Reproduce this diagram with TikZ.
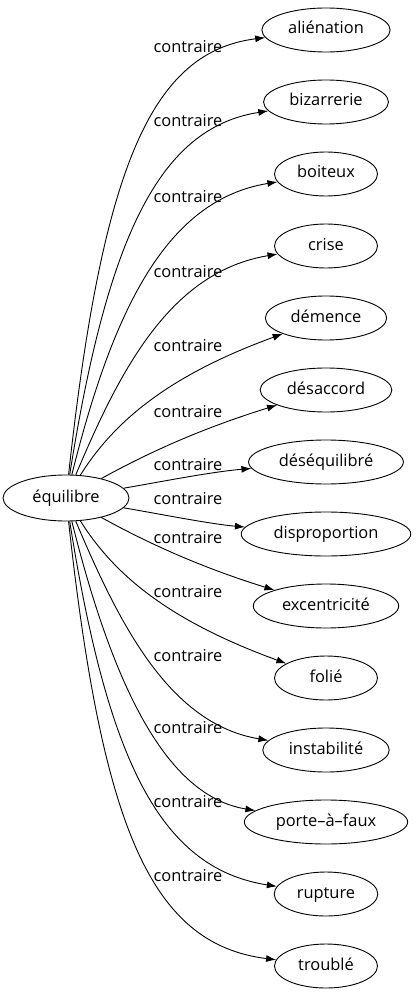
\documentclass[tikz,border=0pt]{standalone}
\usepackage{fontspec}
\setmainfont{Open Sans}
\usetikzlibrary{arrows.meta, shapes.geometric}

\begin{document}
\begin{tikzpicture}[x = 1pt, y = -1pt, > = {Latex[length = 10pt, width = 7pt]},
	word/.style = {draw, ellipse, line width = 0.9pt, minimum width = 103pt, minimum height = 44pt,
		inner xsep = 7.5pt, text height = 12pt, text depth = 4pt},
	lbl/.style = {inner sep = 0pt, text height = 12pt, text depth = 4pt},
	link/.style = {->, line width = 0.9pt}]

	\fontsize{16.4}{19}\selectfont

	% Frame of the page

	\useasboundingbox (0, 0) rectangle (416, 995);

	% Definitions

	\def\X{326}		% Column of the opposite words
	\def\L{188}		% Column of the edge labels

	% Root word

	\node [word, minimum width = 126pt, minimum height = 46pt] (root) at (66, 498) {équilibre};

	% Opposite words

	\foreach \n/\t/\y in {1/aliénation/30, 2/bizarrerie/102, 3/boiteux/174, 4/crise/246,
		5/démence/318, 6/désaccord/390, 7/déséquilibré/462, 8/disproportion/534,
		9/excentricité/606, 10/folié/678, 11/instabilité/750, 12/porte–à–faux/822,
		13/rupture/894, 14/troublé/966}
		\node [word] (w\n) at (\X, \y) {\t};

	% Edge labels

	\foreach \n/\y in {1/49, 2/123, 3/199, 4/273, 5/347, 6/413, 7/466,
		8/500, 9/539, 10/593, 11/657, 12/729, 13/803, 14/877}
		\node [lbl] (l\n) at (\L, \y) {contraire};

	% Edges

	\foreach \n/\ax/\ay/\bx/\by in {1/102/170/150/52, 2/107/240/158/128, 3/113/310/166/200,
		4/120/370/170/272, 5/115/420/170/375, 6/135/460/190/432, 7/160/482/210/472,
		8/160/514/210/524, 9/135/536/190/564, 10/115/576/170/621, 11/120/626/170/724,
		12/113/686/166/796, 13/107/756/158/868, 14/102/826/150/944}
		\draw [link] (root) .. controls (\ax, \ay) and (\bx, \by) .. (w\n);

\end{tikzpicture}
\end{document}
